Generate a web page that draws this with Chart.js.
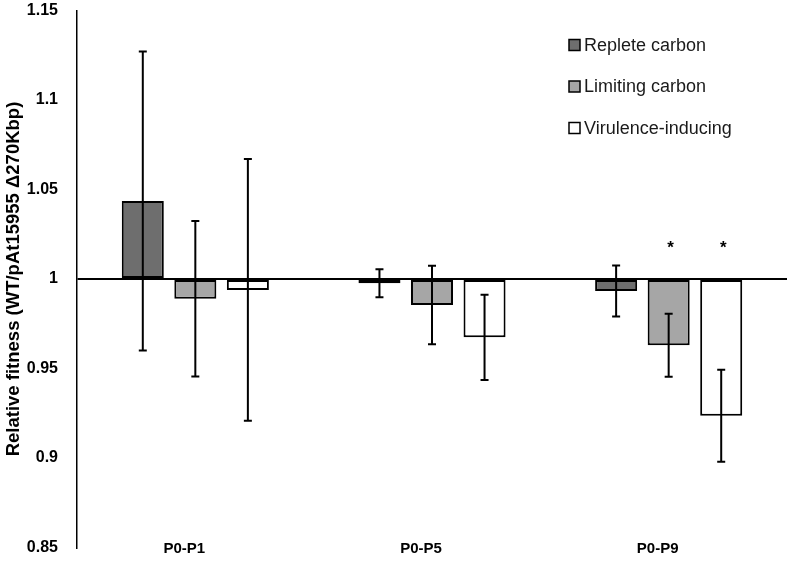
<!DOCTYPE html>
<html lang="en">
<head>
  <meta charset="UTF-8" />
  <title>Relative fitness</title>
  <script src="https://cdn.jsdelivr.net/npm/chart.js"></script>
  <style>
    html, body {
      margin: 0;
      padding: 0;
      background: #fff;
    }
    #wrap {
      width: 789px;
      height: 579px;
    }
  </style>
</head>
<body>
  <div id="wrap"><canvas id="fitnessChart"></canvas></div>

  <script>
    // data
    const periods = ['P0-P1', 'P0-P5', 'P0-P9'];
    const conditions = ['Replete carbon', 'Limiting carbon', 'Virulence-inducing'];

    const repleteMean = [1.0436, 0.9976, 0.9933];
    const limitingMean = [0.989, 0.9855, 0.963];
    const virulenceMean = [0.9939, 0.9674, 0.9236];

    const repleteErr = [0.0835, 0.0078, 0.0143];
    const limitingErr = [0.0434, 0.0219, 0.0176];
    const virulenceErr = [0.0731, 0.0238, 0.0257];

    // significance markers (*)
    const repleteSig = [false, false, false];
    const limitingSig = [false, false, true];
    const virulenceSig = [false, false, true];

    const yTicks = [0.85, 0.9, 0.95, 1, 1.05, 1.1, 1.15];

    const colors = ['#6e6e6e', '#a6a6a6', '#ffffff'];

    const means = [repleteMean, limitingMean, virulenceMean];
    const errs = [repleteErr, limitingErr, virulenceErr];
    const sigs = [repleteSig, limitingSig, virulenceSig];

    const datasets = conditions.map((name, i) => ({
      label: name,
      data: means[i],
      errors: errs[i],
      sig: sigs[i],
      base: 1,
      backgroundColor: colors[i],
      borderColor: '#000',
      borderWidth: 2,
      borderSkipped: false,
      categoryPercentage: 0.666,
      barPercentage: 0.8
    }));

    // error bars + asterisks
    const errorBars = {
      id: 'errorBars',
      afterDatasetsDraw(chart) {
        const ctx = chart.ctx;
        const y = chart.scales.y;
        ctx.save();
        ctx.strokeStyle = '#000';
        ctx.lineWidth = 2;
        chart.data.datasets.forEach((ds, di) => {
          const meta = chart.getDatasetMeta(di);
          meta.data.forEach((bar, j) => {
            const v = ds.data[j];
            const e = ds.errors[j];
            const top = y.getPixelForValue(v + e);
            const bot = y.getPixelForValue(v - e);
            ctx.beginPath();
            ctx.moveTo(bar.x, top);
            ctx.lineTo(bar.x, bot);
            ctx.moveTo(bar.x - 4, top);
            ctx.lineTo(bar.x + 4, top);
            ctx.moveTo(bar.x - 4, bot);
            ctx.lineTo(bar.x + 4, bot);
            ctx.stroke();
            if (ds.sig[j]) {
              ctx.fillStyle = '#000';
              ctx.font = 'bold 17px "Liberation Sans", Arial, sans-serif';
              ctx.textAlign = 'center';
              ctx.textBaseline = 'middle';
              ctx.fillText('*', bar.x + 2, y.getPixelForValue(1.017));
            }
          });
        });
        ctx.restore();
      }
    };

    // legend drawn inside the plot, top right
    const boxLegend = {
      id: 'boxLegend',
      afterDraw(chart) {
        const ctx = chart.ctx;
        ctx.save();
        ctx.font = '18px "Liberation Sans", Arial, sans-serif';
        ctx.textBaseline = 'middle';
        ctx.textAlign = 'left';
        chart.data.datasets.forEach((ds, i) => {
          const cy = 45 + i * 41.5;
          ctx.fillStyle = ds.backgroundColor;
          ctx.fillRect(569, cy - 5.5, 11, 11);
          ctx.strokeStyle = '#000';
          ctx.lineWidth = 1.5;
          ctx.strokeRect(569, cy - 5.5, 11, 11);
          ctx.fillStyle = '#1a1a1a';
          ctx.fillText(ds.label, 584, cy + 1);
        });
        ctx.restore();
      }
    };

    new Chart(document.getElementById('fitnessChart'), {
      type: 'bar',
      data: { labels: periods, datasets: datasets },
      plugins: [errorBars, boxLegend],
      options: {
        responsive: true,
        maintainAspectRatio: false,
        animation: false,
        layout: { padding: { top: 10.5, right: 2, left: 0, bottom: 0 } },
        plugins: {
          legend: { display: false },
          tooltip: { enabled: false }
        },
        scales: {
          x: {
            grid: { display: false },
            border: { display: false },
            ticks: {
              color: '#000',
              font: { family: '"Liberation Sans", Arial, sans-serif', size: 15, weight: 'bold' },
              mirror: true,
              padding: -10,
              labelOffset: -11
            },
            afterFit(scale) { scale.height = 31.5; }
          },
          y: {
            min: 0.85,
            max: 1.15,
            afterBuildTicks(scale) {
              scale.ticks = yTicks.map(v => ({ value: v }));
            },
            ticks: {
              color: '#000',
              padding: 19,
              font: { family: '"Liberation Sans", Arial, sans-serif', size: 16, weight: 'bold' },
              callback: v => String(Number(v.toFixed(2)))
            },
            grid: {
              drawTicks: false,
              lineWidth: 2,
              color: c => (c.tick && Math.abs(c.tick.value - 1) < 1e-9) ? '#000' : 'rgba(0,0,0,0)'
            },
            border: { display: true, color: '#000', width: 1.5 },
            title: {
              display: true,
              text: 'Relative fitness (WT/pAt15955 Δ270Kbp)',
              color: '#000',
              font: { family: '"Liberation Sans", Arial, sans-serif', size: 18.5, weight: 'bold' },
              padding: { top: 3, bottom: 0 }
            },
            afterFit(scale) {
              scale.width = 77;
              scale.paddingTop = 0;
              scale.paddingBottom = 0;
            }
          }
        }
      }
    });
  </script>
</body>
</html>
